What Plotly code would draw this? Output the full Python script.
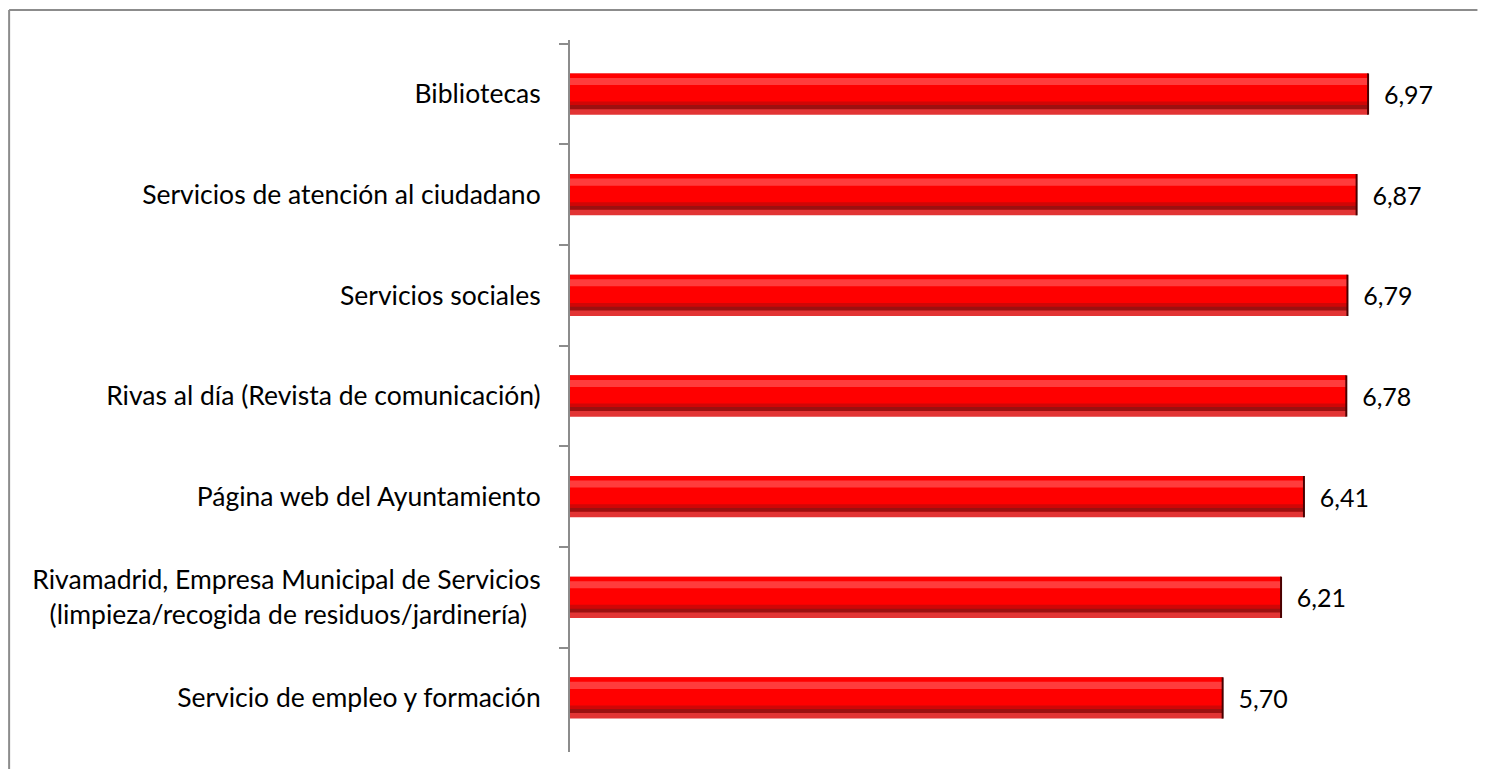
import plotly.graph_objects as go

# service ratings (top to bottom as shown)
categories = [
    "Bibliotecas",
    "Servicios de atención al ciudadano",
    "Servicios sociales",
    "Rivas al día (Revista de comunicación)",
    "Página web del Ayuntamiento",
    "Rivamadrid, Empresa Municipal de Servicios<br>(limpieza/recogida de residuos/jardinería)\u00a0\u00a0",
    "Servicio de empleo y formación",
]
scores = [6.97, 6.87, 6.79, 6.78, 6.41, 6.21, 5.70]

FONT = "Lato, 'Open Sans', sans-serif"
GREY = "#8c8c8c"

fig = go.Figure()

# layered bars give the bevelled look of the original
layers = [
    # (offset, width, colour)
    (-0.205, 0.41, "#e23434"),
    (-0.205, 0.35, "#ff0000"),
    (-0.16, 0.07, "#ff3c3c"),
    (0.075, 0.035, "#d00606"),
    (0.11, 0.04, "#9c1010"),
]
for i, (off, w, col) in enumerate(layers):
    fig.add_trace(go.Bar(
        x=scores, y=categories, orientation="h",
        offset=off, width=w,
        marker=dict(color=col, line=dict(width=0)),
        text=scores if i == 0 else None,
        texttemplate="\u00a0\u00a0%{x:.2f}" if i == 0 else None,
        textposition="outside" if i == 0 else "none",
        textfont=dict(family=FONT, size=25, color="black"),
        cliponaxis=False,
        hoverinfo="skip",
    ))

# dark edge at the end of each bar
fig.add_trace(go.Scatter(
    x=scores, y=categories, mode="markers",
    marker=dict(symbol="line-ns", size=29.5, line=dict(width=2, color="#4a0000")),
    hoverinfo="skip",
))

# page body adds an 8px margin all round; keep the figure inside the window
fig.update_layout(
    width=1474, height=761,
    barmode="overlay",
    showlegend=False,
    separators=",.",
    plot_bgcolor="white",
    paper_bgcolor="white",
    margin=dict(l=562, r=0, t=32, b=17),
    font=dict(family=FONT, size=26.5, color="black"),
    xaxis=dict(range=[0, 7.965], visible=False, showgrid=False, zeroline=False),
    yaxis=dict(
        autorange="reversed",
        showline=True, linecolor=GREY, linewidth=2,
        ticks="outside", tickson="boundaries", ticklen=9,
        tickcolor=GREY, tickwidth=2,
        ticklabelstandoff=22,
        showgrid=False,
        tickfont=dict(family=FONT, size=26.5, color="black"),
    ),
)

# chart frame: left and top edges, kept inside the figure so the page doesn't overflow
fig.add_shape(type="line", xref="paper", yref="paper",
              x0=-0.615, x1=-0.615, y0=-0.0239, y1=1.0421,
              line=dict(color=GREY, width=2), layer="below")
fig.add_shape(type="line", xref="paper", yref="paper",
              x0=-0.615, x1=0.995, y0=1.0421, y1=1.0421,
              line=dict(color=GREY, width=2), layer="below")

fig.write_html("out.html")
